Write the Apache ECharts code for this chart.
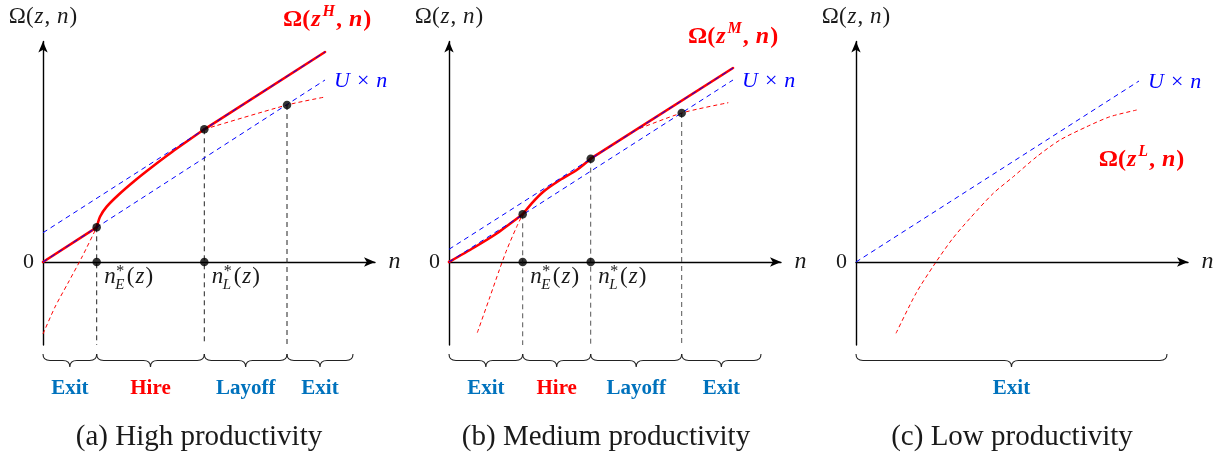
<!DOCTYPE html>
<html>
<head>
<meta charset="utf-8">
<script src="https://cdn.jsdelivr.net/npm/echarts@6/dist/echarts.min.js"></script>
<style>
  html, body { margin: 0; padding: 0; background: #fff; }
  #c { width: 1229px; height: 459px; }
</style>
</head>
<body>
<div id="c"></div>
<script>
// Axis extents shared by the three panels (n on x, Ω(z, n) on y)
const X_MAX = 33.2;
const Y_MIN = -8.3;
const Y_MAX = 22.05;

// (a) High productivity
const highU = [[0, 0], [28.2, 18.2]];
const highUpper = [[0, 2.93], [28.2, 21.0]];
const highSolidLow = [[0, 0], [5.37, 3.47]];
const highSolidHire = [[5.37, 3.47], [5.7, 4.53], [6.37, 5.53], [7.53, 6.7], [9.2, 8.15], [10.9, 9.5], [12.9, 11.0], [16.13, 13.27]];
const highSolidTop = [[16.13, 13.27], [28.2, 21.0]];
const highDashLow = [[0, -7.2], [1.2, -4.5], [2.5, -2.1], [3.9, 0.5], [5.37, 3.47]];
const highDashTop = [[16.13, 13.27], [24.4, 15.7], [28.2, 16.5]];
const highCuts = [5.37, 16.13, 24.4];
const highCutLevels = [3.47, 13.27, 15.7];
const highBounds = [0, 5.37, 16.13, 24.4, 31.0];
const highRegions = ['Exit', 'Hire', 'Layoff', 'Exit'];

// (b) Medium productivity
const medU = [[0, 0], [28.4, 18.2]];
const medUpper = [[0, 1.27], [28.4, 19.4]];
const medSolidLow = [[0, 0], [2.43, 1.4], [4.77, 2.85], [7.37, 4.77]];
const medSolidHire = [[7.37, 4.77], [8.27, 5.87], [9.43, 7.03], [11.1, 8.2], [12.77, 9.2], [14.17, 10.33]];
const medSolidTop = [[14.17, 10.33], [28.4, 19.4]];
const medDashLow = [[2.83, -7.07], [4.1, -3.47], [5.03, -0.8], [5.77, 1.2], [6.77, 3.53], [7.37, 4.77]];
const medDashTop = [[18.43, 13.1], [23.27, 14.9], [27.93, 15.93]];
const medCuts = [7.37, 14.17, 23.27];
const medCutLevels = [4.77, 10.33, 14.9];
const medBounds = [0, 7.37, 14.17, 23.27, 31.2];
const medRegions = ['Exit', 'Hire', 'Layoff', 'Exit'];

// (c) Low productivity
const lowU = [[0, 0], [28.3, 18.1]];
const lowDash = [[4.0, -7.13], [6.0, -3.13], [7.8, -0.3], [9.63, 2.3], [11.4, 4.37], [13.73, 6.87], [15.73, 8.53], [18.07, 10.53], [20.4, 12.2], [23.07, 13.53], [25.4, 14.53], [28.07, 15.2]];
const lowBounds = [0, 31.1];
const lowRegions = ['Exit'];

const SERIF = "'Liberation Serif', 'DejaVu Serif', serif";
const INK = '#1a1a1a';
const RED = '#ff0000';
const BLUE = '#0000ff';
const REGION_COLORS = { Exit: '#0072bd', Layoff: '#0072bd', Hire: '#ff0000' };

const panels = [
  {
    left: 43, U: highU, upper: highUpper,
    solid: [highSolidLow, highSolidHire, highSolidTop], solidSmooth: [false, 0.25, false],
    dash: [highDashLow, highDashTop],
    cuts: highCuts, levels: highCutLevels, axisCuts: 2,
    bounds: highBounds, regions: highRegions, guide: '#222',
    omega: 'H', omegaAnchor: highSolidTop[1], omegaOffset: [-42, -32],
    caption: '(a) High productivity', captionX: 199
  },
  {
    left: 449, U: medU, upper: medUpper,
    solid: [medSolidLow, medSolidHire, medSolidTop], solidSmooth: [0.2, 0.25, false],
    dash: [medDashLow, medDashTop],
    cuts: medCuts, levels: medCutLevels, axisCuts: 2,
    bounds: medBounds, regions: medRegions, guide: '#555',
    omega: 'M', omegaAnchor: medSolidTop[1], omegaOffset: [-45, -31],
    caption: '(b) Medium productivity', captionX: 606
  },
  {
    left: 856, U: lowU, upper: null,
    solid: [], solidSmooth: [],
    dash: [lowDash],
    cuts: [], levels: [], axisCuts: 0,
    bounds: lowBounds, regions: lowRegions, guide: '#222',
    omega: 'L', omegaAnchor: lowDash[lowDash.length - 1], omegaOffset: [-38, 50],
    caption: '(c) Low productivity', captionX: 1012
  }
];

const chart = echarts.init(document.getElementById('c'), null, { renderer: 'canvas' });

const grids = [], xAxes = [], yAxes = [], series = [];
const axisLine = {
  onZero: true,
  symbol: ['none', 'arrow'],
  symbolSize: [7, 11],
  lineStyle: { color: '#000', width: 1.4 }
};

panels.forEach((p, i) => {
  grids.push({ left: p.left, top: 41.5, width: 332, height: 303.5, outerBoundsMode: 'none' });
  xAxes.push({
    gridIndex: i, type: 'value', min: 0, max: X_MAX,
    axisLine: axisLine, axisTick: { show: false }, axisLabel: { show: false }, splitLine: { show: false }
  });
  yAxes.push({
    gridIndex: i, type: 'value', min: Y_MIN, max: Y_MAX,
    axisLine: axisLine, axisTick: { show: false }, axisLabel: { show: false }, splitLine: { show: false }
  });

  const base = { xAxisIndex: i, yAxisIndex: i, showSymbol: false, silent: true, animation: false };

  // dashed guides from each threshold point down past the axis
  p.cuts.forEach((x, k) => {
    series.push(Object.assign({}, base, {
      type: 'line', z: 2,
      data: [[x, p.levels[k]], [x, Y_MIN]],
      lineStyle: { color: p.guide, width: 1, type: [5, 4] }
    }));
  });

  // value function: solid where it is the chosen policy
  p.solid.forEach((seg, k) => {
    series.push(Object.assign({}, base, {
      type: 'line', z: 3, data: seg, smooth: p.solidSmooth[k],
      lineStyle: { color: RED, width: 2.6, cap: 'round' }
    }));
  });

  // value function branches that are not chosen
  p.dash.forEach(seg => {
    series.push(Object.assign({}, base, {
      type: 'line', z: 3, data: seg, smooth: 0.25,
      lineStyle: { color: RED, width: 1, type: [4, 3] }
    }));
  });

  // outside option U × n and its parallel shift
  series.push(Object.assign({}, base, {
    type: 'line', z: 4, data: p.U,
    lineStyle: { color: BLUE, width: 1, type: [5, 4] }
  }));
  if (p.upper) {
    series.push(Object.assign({}, base, {
      type: 'line', z: 4, data: p.upper,
      lineStyle: { color: BLUE, width: 1, type: [5, 4] }
    }));
  }

  // threshold dots, on the curve and on the n axis
  const dots = p.cuts.map((x, k) => [x, p.levels[k]])
    .concat(p.cuts.slice(0, p.axisCuts).map(x => [x, 0]));
  if (dots.length) {
    series.push({
      type: 'scatter', xAxisIndex: i, yAxisIndex: i, z: 5, silent: true, animation: false,
      symbol: 'circle', symbolSize: 8.5, itemStyle: { color: '#000' }, data: dots
    });
  }

  // braces under the axis, one per policy region
  const spans = p.regions.map((name, k) => [p.bounds[k], p.bounds[k + 1]]);
  series.push({
    type: 'custom', xAxisIndex: i, yAxisIndex: i, coordinateSystem: 'cartesian2d',
    clip: false, silent: true, animation: false, z: 2,
    encode: { x: [0, 1] },
    data: spans,
    renderItem: function (params, api) {
      const s = api.coord([api.value(0), Y_MIN]);
      const e = api.coord([api.value(1), Y_MIN]);
      const top = s[1] + 9, amp = 13, h = amp / 2, q = 7;
      const x0 = s[0], x1 = e[0], xm = (x0 + x1) / 2;
      const d = 'M' + x0 + ',' + top +
        ' Q' + x0 + ',' + (top + h) + ' ' + (x0 + q) + ',' + (top + h) +
        ' L' + (xm - q) + ',' + (top + h) +
        ' Q' + xm + ',' + (top + h) + ' ' + xm + ',' + (top + amp) +
        ' Q' + xm + ',' + (top + h) + ' ' + (xm + q) + ',' + (top + h) +
        ' L' + (x1 - q) + ',' + (top + h) +
        ' Q' + x1 + ',' + (top + h) + ' ' + x1 + ',' + top;
      const name = p.regions[params.dataIndex];
      return {
        type: 'group',
        children: [
          { type: 'path', shape: { pathData: d }, style: { stroke: '#222', fill: 'none', lineWidth: 1.1 } },
          {
            type: 'text', x: xm, y: top + amp + 22,
            style: {
              text: name, fill: REGION_COLORS[name],
              fontFamily: SERIF, fontSize: 21, fontWeight: 'bold',
              align: 'center', verticalAlign: 'middle'
            }
          }
        ]
      };
    }
  });
});

chart.setOption({
  animation: false,
  grid: grids,
  xAxis: xAxes,
  yAxis: yAxes,
  series: series
});

// ---- text annotations ----
const measureCtx = document.createElement('canvas').getContext('2d');
function measure(str, font) { measureCtx.font = font; return measureCtx.measureText(str).width; }

function mathRich(color, size, bold, gap) {
  const weight = bold ? 'bold' : 'normal';
  const sup = Math.round(size * 0.68);
  return {
    r: { fontFamily: SERIF, fontSize: size, fontWeight: weight, fill: color, lineHeight: size + 8 },
    i: { fontFamily: SERIF, fontSize: size, fontWeight: weight, fontStyle: 'italic', fill: color, lineHeight: size + 8, padding: [0, 1] },
    op: { fontFamily: SERIF, fontSize: size, fontWeight: weight, fill: color, lineHeight: size + 8, padding: [0, gap || 6] },
    sup: { fontFamily: SERIF, fontSize: sup, fontWeight: weight, fontStyle: 'italic', fill: color, lineHeight: sup, verticalAlign: 'top', padding: [0, 1] }
  };
}

function richText(x, y, text, rich, align) {
  return {
    type: 'text', x: x, y: y, silent: true,
    style: { text: text, rich: rich, align: align, verticalAlign: 'middle', textAlign: align, textVerticalAlign: 'middle' }
  };
}

function plainText(x, y, text, font, color, align) {
  return {
    type: 'text', x: x, y: y, silent: true,
    style: { text: text, font: font, fill: color, align: align, verticalAlign: 'middle', textAlign: align, textVerticalAlign: 'middle' }
  };
}

// n*_sub(z) tick label, star and subscript stacked after the n
function thresholdLabel(x0, y0, sub) {
  const mainFont = 'italic 23px ' + SERIF;
  const starFont = '16px ' + SERIF;
  const subFont = 'italic 15px ' + SERIF;
  const wn = measure('n', mainFont);
  const ws = Math.max(measure('*', starFont), measure(sub, subFont));
  return [
    plainText(x0, y0, 'n', mainFont, INK, 'left'),
    plainText(x0 + wn + 0.5, y0 - 5, '*', starFont, INK, 'left'),
    plainText(x0 + wn - 0.5, y0 + 8, sub, subFont, INK, 'left'),
    richText(x0 + wn + ws + 2, y0, '{r|(}{i|z}{r|)}', mathRich(INK, 23, false), 'left')
  ];
}

const elements = [];
panels.forEach((p, i) => {
  const o = chart.convertToPixel({ gridIndex: i }, [0, 0]);
  const tipX = chart.convertToPixel({ gridIndex: i }, [X_MAX, 0])[0] + 5.5;

  elements.push(richText(o[0], 17, '{r|Ω(}{i|z}{r|, }{i|n}{r|)}', mathRich(INK, 23, false), 'center'));
  elements.push(plainText(o[0] - 9, o[1], '0', '22px ' + SERIF, INK, 'right'));
  elements.push(plainText(tipX + 8, o[1], 'n', 'italic 24px ' + SERIF, INK, 'left'));

  const uEnd = chart.convertToPixel({ gridIndex: i }, p.U[p.U.length - 1]);
  elements.push(richText(uEnd[0] + 8, uEnd[1] + 1, '{i|U}{op|×}{i|n}', mathRich(BLUE, 22, false, 6), 'left'));

  const oa = chart.convertToPixel({ gridIndex: i }, p.omegaAnchor);
  elements.push(richText(oa[0] + p.omegaOffset[0], oa[1] + p.omegaOffset[1],
    '{r|Ω(}{i|z}{sup|' + p.omega + '}{r|, }{i|n}{r|)}', mathRich(RED, 24, true), 'left'));

  const subs = ['E', 'L'];
  p.cuts.slice(0, p.axisCuts).forEach((x, k) => {
    const c = chart.convertToPixel({ gridIndex: i }, [x, 0]);
    thresholdLabel(c[0] + 7.5, o[1] + 15, subs[k]).forEach(el => elements.push(el));
  });

  elements.push(plainText(p.captionX, 437, p.caption, '29px ' + SERIF, INK, 'center'));
});

chart.setOption({ graphic: { elements: elements } });
</script>
</body>
</html>
